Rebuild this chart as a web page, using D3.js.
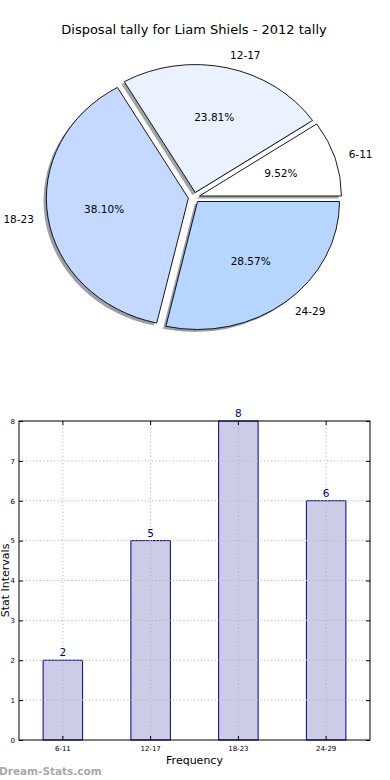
<!DOCTYPE html>
<html><head><meta charset="utf-8">
<script src="https://cdn.jsdelivr.net/npm/d3@7"></script>
<style>body{margin:0;background:#fff}svg{display:block}text{font-family:"DejaVu Sans",sans-serif}</style>
</head><body>
<svg id="c" width="390" height="780"></svg>
<script>
const categories = ["6-11","12-17","18-23","24-29"];
const values = [2,5,8,6];
const pieColors = ["#ffffff","#eaf1ff","#c5d8ff","#b6d6ff"];
const yTicks = [0,1,2,3,4,5,6,7,8];
const title = "Disposal tally for Liam Shiels - 2012 tally";

const svg = d3.select("#c");
svg.append("rect").attr("width",390).attr("height",780).attr("fill","#fff");

// ---------- Pie ----------
const cx = 194, cy = 197.5, sx = 142, sy = 128, ex = 0.04;
const px = d3.scaleLinear().domain([-1,1]).range([cx-sx, cx+sx]);
const py = d3.scaleLinear().domain([-1,1]).range([cy+sy, cy-sy]);
svg.append("text").attr("x",194).attr("y",34).attr("text-anchor","middle")
  .attr("font-size",13).text(title);

const pie = d3.pie().sort(null).startAngle(Math.PI/2).endAngle(Math.PI/2 - 2*Math.PI);
const arcs = pie(values);
const arc = d3.arc().innerRadius(0).outerRadius(1);
const total = d3.sum(values);
arcs.forEach((a,i)=>{
  const mid = (a.startAngle + a.endAngle)/2;
  a.ux = Math.sin(mid); a.uy = Math.cos(mid);
  a.i = i;
});
arcs.forEach(a=>{
  const c = d3.rgb(pieColors[a.i]);
  svg.append("path").attr("d", arc(a))
    .attr("transform", `translate(${px(ex*a.ux - 0.02)},${py(ex*a.uy - 0.02)}) scale(${sx},${sy})`)
    .attr("fill", d3.rgb(c.r*0.3,c.g*0.3,c.b*0.3)).attr("fill-opacity",0.5);
});
arcs.forEach(a=>{
  svg.append("path").attr("d", arc(a))
    .attr("transform", `translate(${px(ex*a.ux)},${py(ex*a.uy)}) scale(${sx},${sy})`)
    .attr("fill", pieColors[a.i]).attr("stroke","#000").attr("stroke-width",0.9)
    .attr("vector-effect","non-scaling-stroke").attr("stroke-linejoin","miter");
});
arcs.forEach(a=>{
  const lx = (ex+1.1)*a.ux, ly = (ex+1.1)*a.uy;
  svg.append("text").attr("x",px(lx)).attr("y",py(ly)).attr("dy","0.35em")
    .attr("text-anchor", lx>0 ? "start" : "end").attr("font-size",10.5)
    .text(categories[a.i]);
  const tx = (ex+0.6)*a.ux, ty = (ex+0.6)*a.uy;
  svg.append("text").attr("x",px(tx)).attr("y",py(ty)).attr("dy","0.35em")
    .attr("text-anchor","middle").attr("font-size",10.5)
    .text((values[a.i]/total*100).toFixed(2)+"%");
});

// ---------- Bar chart ----------
const L=19, R=370, T=421, B=740;
const x = d3.scaleBand().domain(categories).range([L,R]).paddingInner(0.55).paddingOuter(0.275);
const y = d3.scaleLinear().domain([0,8]).range([B,T]);
const g = svg.append("g");
g.selectAll(".bar").data(values).join("rect")
  .attr("x",(d,i)=>x(categories[i])).attr("width",x.bandwidth())
  .attr("y",d=>y(d)).attr("height",d=>B-y(d))
  .attr("fill","#ccccE6").attr("stroke","#000080").attr("stroke-width",1);
g.selectAll(".vg").data(categories).join("line")
  .attr("x1",d=>x(d)+x.bandwidth()/2).attr("x2",d=>x(d)+x.bandwidth()/2).attr("y1",T).attr("y2",B)
  .attr("stroke","#b0b0b0").attr("stroke-dasharray","1,2.5");
g.selectAll(".hg").data(yTicks.filter(t=>t>0&&t<8)).join("line")
  .attr("x1",L).attr("x2",R).attr("y1",d=>y(d)).attr("y2",d=>y(d))
  .attr("stroke","#b0b0b0").attr("stroke-dasharray","1,2.5");
g.selectAll(".vl").data(values).join("text")
  .attr("x",(d,i)=>x(categories[i])+x.bandwidth()/2).attr("y",d=>y(d)-4)
  .attr("text-anchor","middle").attr("font-size",10.5).attr("fill","#000088").text(d=>d);
g.append("rect").attr("x",L).attr("y",T).attr("width",R-L).attr("height",B-T)
  .attr("fill","none").attr("stroke","#000").attr("stroke-width",1);
const yAxL = d3.axisLeft(y).tickValues(yTicks).tickSize(-4).tickPadding(4);
const yAxR = d3.axisRight(y).tickValues(yTicks).tickSize(-4).tickFormat("");
const xAxB = d3.axisBottom(x).tickSize(-4).tickPadding(6);
const xAxT = d3.axisTop(x).tickSize(-4).tickFormat("");
[[yAxL,`translate(${L},0)`],[yAxR,`translate(${R},0)`],[xAxB,`translate(0,${B})`],[xAxT,`translate(0,${T})`]].forEach(([ax,tr])=>{
  const a = g.append("g").attr("transform",tr).call(ax);
  a.select(".domain").remove();
  a.selectAll("text").attr("font-size",7).attr("font-family","DejaVu Sans").attr("fill","#000");
  a.selectAll("line").attr("stroke","#000");
});
svg.append("text").attr("x",(L+R)/2).attr("y",764).attr("text-anchor","middle").attr("font-size",11).text("Frequency");
svg.append("text").attr("transform",`translate(9,${(T+B)/2}) rotate(-90)`).attr("text-anchor","middle")
  .attr("font-size",11).text("Stat Intervals");
svg.append("text").attr("x",-1).attr("y",775).attr("font-size",10.5).attr("fill","#a8a8a8")
  .attr("font-weight","bold").text("Dream-Stats.com");
</script>
</body></html>
